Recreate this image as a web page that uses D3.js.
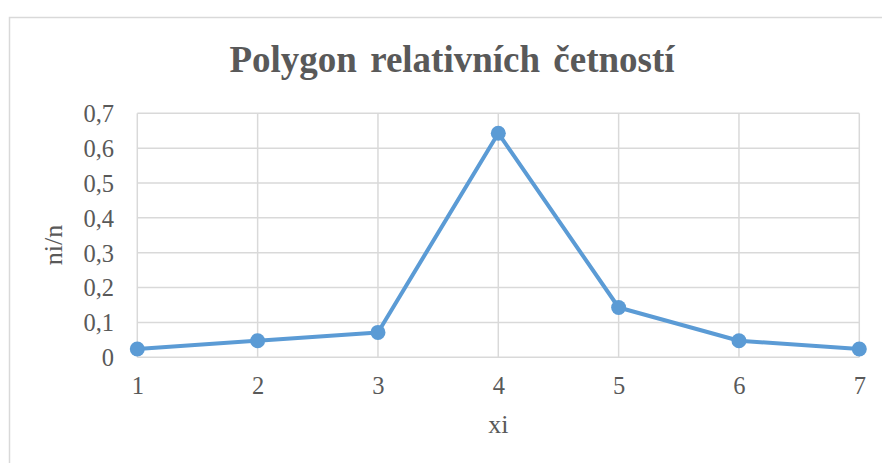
<!DOCTYPE html>
<html>
<head>
<meta charset="utf-8">
<script src="https://cdn.jsdelivr.net/npm/d3@7"></script>
<style>
html,body{margin:0;padding:0;background:#fff;}
svg{display:block;}
</style>
</head>
<body>
<svg id="chart" width="882" height="463"></svg>
<script>
const categories = [1, 2, 3, 4, 5, 6, 7];
const values = [0.0238, 0.0476, 0.0714, 0.6429, 0.1429, 0.0476, 0.0238];
const yTicks = [0, 0.1, 0.2, 0.3, 0.4, 0.5, 0.6, 0.7];
const title = "Polygon relativních četností";
const xTitle = "xi";
const yTitle = "ni/n";

const svg = d3.select("#chart");
const font = "'Liberation Serif','Times New Roman',serif";
const textColor = "#595959";
const gridColor = "#d9d9d9";
const lineColor = "#5b9bd5";

// outer chart border
svg.append("rect").attr("x", 9.5).attr("y", 17.5).attr("width", 900).attr("height", 500)
  .attr("fill", "#fff").attr("stroke", gridColor).attr("stroke-width", 1.5);

const x = d3.scaleLinear().domain([1, 7]).range([137.3, 859.3]);
const y = d3.scaleLinear().domain([0, 0.7]).range([357.3, 113.3]);

// horizontal gridlines
svg.append("g").selectAll("line").data(yTicks).join("line")
  .attr("x1", x(1)).attr("x2", x(7))
  .attr("y1", d => y(d)).attr("y2", d => y(d))
  .attr("stroke", gridColor).attr("stroke-width", 1.5);

// vertical gridlines
svg.append("g").selectAll("line").data(categories).join("line")
  .attr("x1", d => x(d)).attr("x2", d => x(d))
  .attr("y1", y(0.7)).attr("y2", y(0))
  .attr("stroke", gridColor).attr("stroke-width", 1.5);

// y axis
const fmt = d => d3.format(".1~f")(d).replace(".", ",");
const yAxis = d3.axisLeft(y).tickValues(yTicks).tickFormat(fmt).tickSize(0).tickPadding(0);
const gy = svg.append("g").attr("transform", `translate(${114},0)`).call(yAxis);
gy.select(".domain").remove();
gy.selectAll("text").attr("font-family", font).attr("font-size", 24.5).attr("fill", textColor)
  .attr("dy", "0.34em");

// x axis
const xAxis = d3.axisBottom(x).tickValues(categories).tickFormat(d3.format("d")).tickSize(0).tickPadding(0);
const gx = svg.append("g").attr("transform", `translate(0,${y(0)})`).call(xAxis);
gx.select(".domain").remove();
gx.selectAll("text").attr("font-family", font).attr("font-size", 24.5).attr("fill", textColor)
  .attr("dy", null).attr("y", 37);

// line
const line = d3.line().x((d, i) => x(categories[i])).y(d => y(d));
svg.append("path").datum(values).attr("d", line)
  .attr("fill", "none").attr("stroke", lineColor).attr("stroke-width", 4)
  .attr("stroke-linejoin", "round").attr("stroke-linecap", "round");

svg.append("g").selectAll("circle").data(values).join("circle")
  .attr("cx", (d, i) => x(categories[i])).attr("cy", d => y(d)).attr("r", 7.5)
  .attr("fill", lineColor);

// title
svg.append("text").attr("x", 452).attr("y", 71.7).attr("text-anchor", "middle")
  .attr("font-family", font).attr("font-weight", "bold").attr("font-size", 37)
  .attr("word-spacing", 4)
  .attr("fill", textColor).text(title);

// axis titles
svg.append("text").attr("x", x(4)).attr("y", 432.7).attr("text-anchor", "middle")
  .attr("font-family", font).attr("font-size", 26).attr("fill", textColor).text(xTitle);

svg.append("text").attr("transform", `translate(${62},${245}) rotate(-90)`).attr("text-anchor", "middle")
  .attr("font-family", font).attr("font-size", 26).attr("fill", textColor).text(yTitle);
</script>
</body>
</html>
